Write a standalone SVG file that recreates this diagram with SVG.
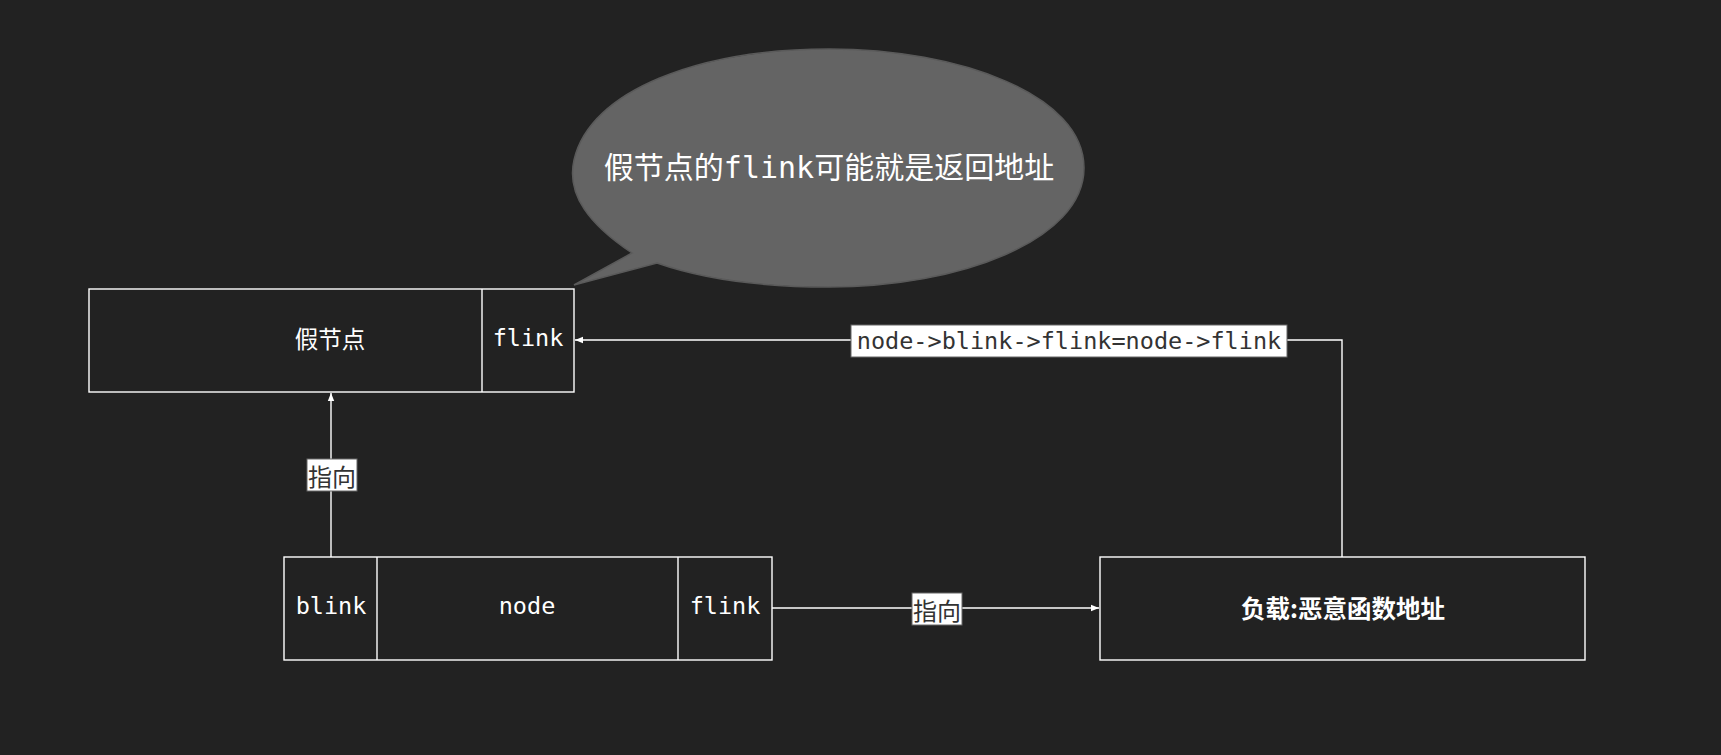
<svg xmlns="http://www.w3.org/2000/svg" width="1721" height="755" viewBox="0 0 1721 755">
<defs>
<marker id="arr" viewBox="0 0 10 10" refX="10" refY="5" markerWidth="8" markerHeight="8" markerUnits="userSpaceOnUse" orient="auto">
<path d="M0,1 L10,5 L0,9 Z" fill="#ffffff"/>
</marker>
<style>
.box{fill:#222222;stroke:#ffffff;stroke-width:1.4}
.t{font-family:"DejaVu Sans Mono","Noto Sans CJK SC",monospace;font-size:23.5px;fill:#ffffff;text-anchor:middle;dominant-baseline:central}
.cn{font-family:"Noto Sans CJK SC","DejaVu Sans",sans-serif;font-size:23.5px;fill:#ffffff;text-anchor:middle;dominant-baseline:central}
.line{fill:none;stroke:#ffffff;stroke-width:1.4}
.lblbg{fill:#ffffff;stroke:#666666;stroke-width:1}
.lbl{font-family:"DejaVu Sans Mono","Noto Sans CJK SC",monospace;font-size:23.5px;fill:#333333;text-anchor:middle;dominant-baseline:central}
.lblcn{font-family:"Noto Sans CJK SC",sans-serif;font-size:24px;fill:#333333;text-anchor:middle;dominant-baseline:central}
</style>
</defs>
<rect width="1721" height="755" fill="#222222"/>
<g id="bubble">
<path d="M632,253 C590,225 566,195 574,160 C590,90 700,49 829,49 C960,49 1084,95 1084,168 C1084,240 960,287 829,287 C760,287 700,278 657,263 L574,285 Z" fill="#646464" stroke="#5a5a5a" stroke-width="1.5"/>
<text class="t" x="829" y="167" style="font-size:30px">假节点的flink可能就是返回地址</text>
</g>
<g id="fake-node">
<rect class="box" x="89" y="289" width="485" height="103"/>
<line class="line" x1="482" y1="289" x2="482" y2="392"/>
<text class="cn" x="330" y="338">假节点</text>
<text class="t" x="528" y="338">flink</text>
</g>
<g id="node">
<rect class="box" x="284" y="557" width="488" height="103"/>
<line class="line" x1="377" y1="557" x2="377" y2="660"/>
<line class="line" x1="678" y1="557" x2="678" y2="660"/>
<text class="t" x="331" y="606">blink</text>
<text class="t" x="527" y="606">node</text>
<text class="t" x="725" y="606">flink</text>
</g>
<g id="payload">
<rect class="box" x="1100" y="557" width="485" height="103"/>
<text class="cn" x="1343" y="607" style="font-weight:bold;font-size:24.5px">负载:恶意函数地址</text>
</g>
<g id="connectors">
<line class="line" x1="331" y1="557" x2="331" y2="393" marker-end="url(#arr)"/>
<rect class="lblbg" x="307" y="459" width="50" height="32"/>
<text class="lblcn" x="332" y="475">指向</text>
<line class="line" x1="772" y1="608" x2="1099" y2="608" marker-end="url(#arr)"/>
<rect class="lblbg" x="912" y="593" width="50" height="32"/>
<text class="lblcn" x="937" y="609">指向</text>
<polyline class="line" points="1342,557 1342,340 575,340" marker-end="url(#arr)"/>
<rect class="lblbg" x="851" y="325" width="436" height="32"/>
<text class="lbl" x="1069" y="341">node-&gt;blink-&gt;flink=node-&gt;flink</text>
</g>
</svg>
